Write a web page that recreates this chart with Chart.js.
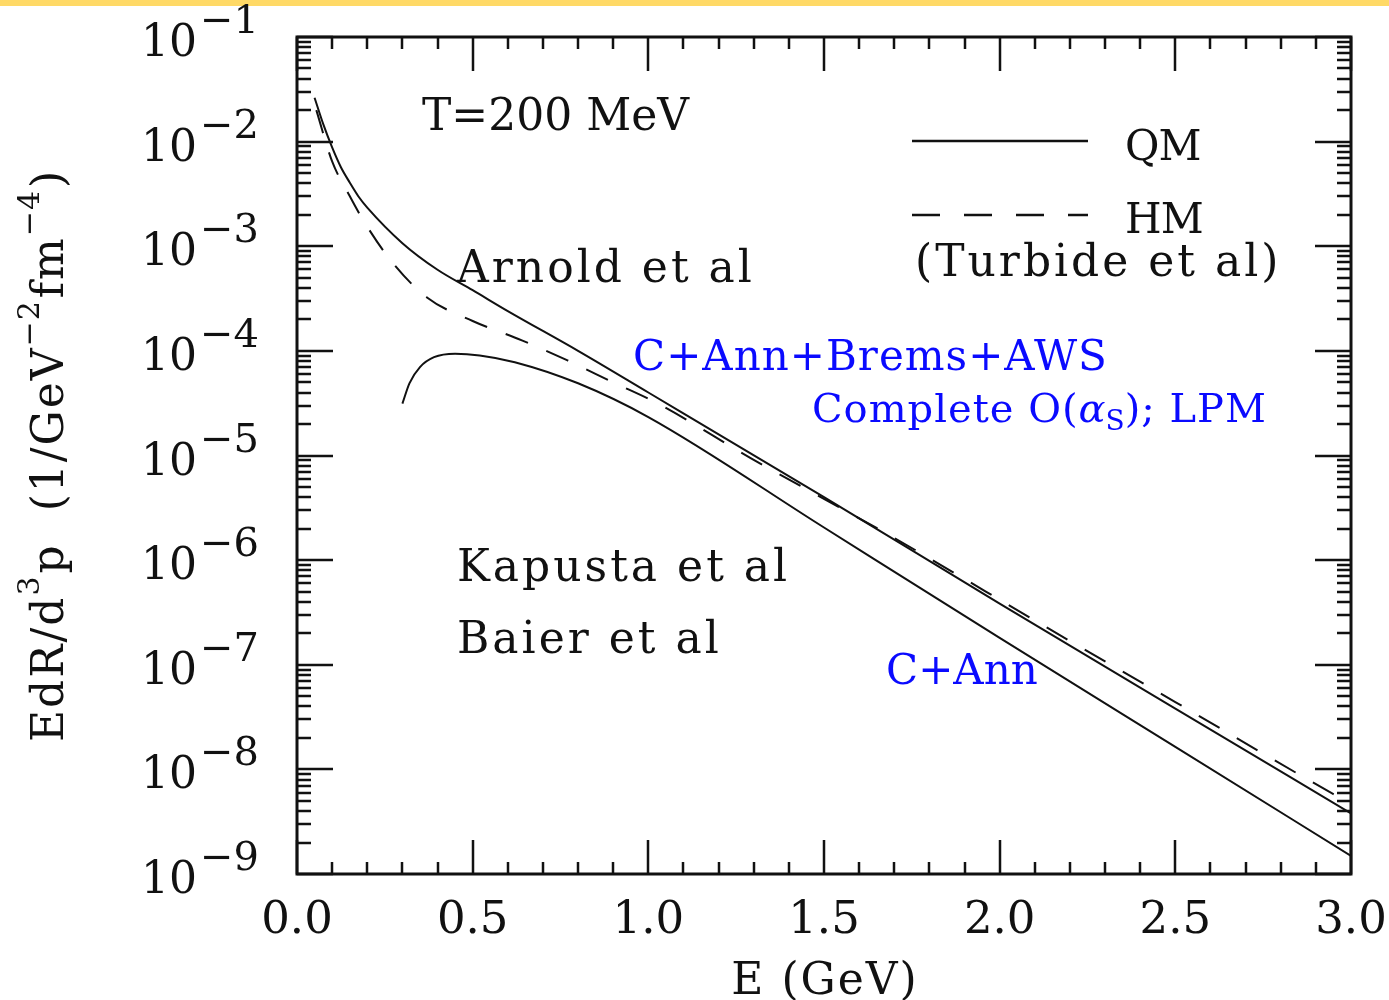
<!DOCTYPE html>
<html>
<head>
<meta charset="utf-8">
<script src="https://cdn.jsdelivr.net/npm/chart.js@4/dist/chart.umd.min.js"></script>
<style>
  html, body { margin: 0; padding: 0; background: #fff; }
  canvas { display: block; }
</style>
</head>
<body>
<canvas id="rateChart" width="1389" height="1000"></canvas>
<script>
// photon rate at T = 200 MeV, E in GeV, rate in 1/GeV^2 fm^4

// QM, complete O(alpha_s) with LPM (Arnold et al)
const qmArnoldE    = [0.05, 0.075, 0.1, 0.125, 0.15, 0.175, 0.2, 0.3, 0.4, 0.5, 0.6, 0.8, 1.0,
                      1.5, 2.0, 2.5, 3.0];
const qmArnoldRate = [2.63e-2, 1.46e-2, 8.8e-3, 5.69e-3, 4.07e-3, 2.99e-3, 2.34e-3, 1.07e-3, 5.96e-4,
                      3.8e-4, 2.4e-4, 1.0e-4, 4.0e-5, 4.0e-6, 3.84e-7, 3.8e-8, 3.8e-9];

// QM, Compton + annihilation (Kapusta et al, Baier et al)
const qmKapustaE    = [0.30, 0.32, 0.35, 0.39, 0.45, 0.52, 0.62, 0.8, 1.0, 1.5, 2.0, 2.5, 3.0];
const qmKapustaRate = [3.13e-5, 4.9e-5, 7.0e-5, 8.7e-5, 9.4e-5, 9.05e-5, 7.8e-5, 4.9e-5, 2.33e-5,
                       2.05e-6, 1.81e-7, 1.64e-8, 1.49e-9];

// HM (Turbide et al)
const hmTurbideE    = [0.055, 0.1, 0.15, 0.19, 0.27, 0.37, 0.5, 0.64, 0.77, 0.9, 1.03, 1.29, 1.54,
                       1.68, 2.14, 2.5, 2.95, 3.0];
const hmTurbideRate = [2.0e-2, 6.46e-3, 3.02e-3, 1.74e-3, 7.1e-4, 3.24e-4, 1.93e-4, 1.26e-4, 8.1e-5,
                       5.0e-5, 3.1e-5, 9.5e-6, 3.24e-6, 1.78e-6, 2.21e-7, 4.4e-8, 5.8e-9, 4.7e-9];

const xTickLabels = ['0.0', '0.5', '1.0', '1.5', '2.0', '2.5', '3.0'];
const yTickExponents = [-1, -2, -3, -4, -5, -6, -7, -8, -9];

const FONT = '"DejaVu Serif", serif';
const INK = '#111';
const BLUE = '#0a0aff';

function toPoints(xs, ys) {
  return xs.map((x, i) => ({ x: x, y: ys[i] }));
}

function drawText(ctx, str, x, y, size, color, extra) {
  extra = extra || {};
  ctx.save();
  ctx.font = (extra.style || '') + ' ' + size + 'px ' + FONT;
  ctx.fillStyle = color || INK;
  ctx.textAlign = extra.align || 'left';
  ctx.textBaseline = 'alphabetic';
  ctx.letterSpacing = (extra.spacing != null ? extra.spacing : 3) + 'px';
  ctx.fillText(str, x, y);
  const w = ctx.measureText(str).width;
  ctx.restore();
  return w;
}

// frame, inward ticks on all four sides, labels and annotations
const framePlugin = {
  id: 'frame',
  beforeDraw(chart) {
    const ctx = chart.ctx;
    ctx.save();
    ctx.fillStyle = '#ffd966';
    ctx.fillRect(0, 0, chart.width, 6);
    ctx.restore();
  },
  afterDraw(chart) {
    const ctx = chart.ctx;
    const a = chart.chartArea;
    const xs = chart.scales.x;
    const ys = chart.scales.y;

    ctx.save();
    ctx.strokeStyle = INK;
    ctx.lineCap = 'butt';

    // ticks
    ctx.lineWidth = 2.5;
    ctx.beginPath();
    for (let i = 0; i <= 30; i++) {
      const px = Math.round(xs.getPixelForValue(i / 10));
      const len = (i % 5 === 0) ? 34 : 12;
      ctx.moveTo(px, a.bottom); ctx.lineTo(px, a.bottom - len);
      ctx.moveTo(px, a.top);    ctx.lineTo(px, a.top + len);
    }
    for (let e = -9; e <= -1; e++) {
      for (let m = 1; m <= 9; m++) {
        const v = m * Math.pow(10, e);
        if (v > 0.1 + 1e-12) continue;
        const py = Math.round(ys.getPixelForValue(v));
        const len = (m === 1) ? 36 : 14;
        ctx.moveTo(a.left, py);  ctx.lineTo(a.left + len, py);
        ctx.moveTo(a.right, py); ctx.lineTo(a.right - len, py);
      }
    }
    ctx.stroke();

    // frame
    ctx.lineWidth = 3;
    ctx.strokeRect(a.left, a.top, a.right - a.left, a.bottom - a.top);
    ctx.restore();

    // x tick labels
    xTickLabels.forEach(lab => {
      const px = xs.getPixelForValue(parseFloat(lab));
      drawText(ctx, lab, px, 933, 45, INK, { align: 'center', spacing: 0 });
    });
    drawText(ctx, 'E (GeV)', 825, 994, 44, INK, { align: 'center', spacing: 2 });

    // y tick labels 10^n
    yTickExponents.forEach(n => {
      const py = ys.getPixelForValue(Math.pow(10, n));
      drawText(ctx, '10', 141, py + 19, 44, INK, { spacing: 0 });
      drawText(ctx, '\u2212' + Math.abs(n), 200, py - 4, 40, INK, { spacing: 0 });
    });

    // y title, rotated, with superscripts
    ctx.save();
    ctx.translate(63, 742);
    ctx.rotate(-Math.PI / 2);
    const parts = [
      ['EdR/d', 0], ['3', 1], ['p  (1/GeV', 0], ['\u22122', 1], ['fm', 0], ['\u22124', 1], [')', 0]
    ];
    let cx = 0;
    parts.forEach(p => {
      if (p[1]) {
        cx += drawText(ctx, p[0], cx, -24, 30, INK, { spacing: 1 }) + 2;
      } else {
        cx += drawText(ctx, p[0], cx, 0, 44, INK, { spacing: 2 });
      }
    });
    ctx.restore();

    // annotations
    drawText(ctx, 'T=200 MeV', 422, 130, 44, INK, { spacing: 0 });
    drawText(ctx, 'Arnold et al', 457, 282, 44, INK);
    drawText(ctx, 'Kapusta et al', 457, 581, 44, INK);
    drawText(ctx, 'Baier et al', 457, 653, 44, INK);
    drawText(ctx, 'C+Ann+Brems+AWS', 633, 370, 42, BLUE, { spacing: 1 });
    let lx = 812;
    lx += drawText(ctx, 'Complete O(', lx, 422, 40, BLUE, { spacing: 1 });
    lx += drawText(ctx, '\u03b1', lx, 422, 40, BLUE, { style: 'italic', spacing: 0 });
    lx += drawText(ctx, 'S', lx, 430, 28, BLUE, { spacing: 0 });
    drawText(ctx, '); LPM', lx, 422, 40, BLUE, { spacing: 1 });
    drawText(ctx, 'C+Ann', 886, 684, 42, BLUE, { spacing: 0 });

    // legend
    ctx.save();
    ctx.strokeStyle = INK;
    ctx.lineWidth = 2.5;
    ctx.beginPath();
    ctx.moveTo(912, 141); ctx.lineTo(1088, 141);
    ctx.stroke();
    ctx.setLineDash([28, 24]);
    ctx.beginPath();
    ctx.moveTo(912, 215); ctx.lineTo(1088, 215);
    ctx.stroke();
    ctx.restore();
    drawText(ctx, 'QM', 1125, 160, 42, INK, { spacing: -1 });
    drawText(ctx, 'HM', 1125, 233, 42, INK, { spacing: -1 });
    drawText(ctx, '(Turbide et al)', 915, 276, 44, INK);
  }
};

const lineStyle = {
  borderColor: INK,
  borderWidth: 2,
  pointRadius: 0,
  fill: false,
  cubicInterpolationMode: 'monotone'
};

new Chart(document.getElementById('rateChart'), {
  type: 'line',
  data: {
    datasets: [
      Object.assign({ label: 'QM Arnold et al', data: toPoints(qmArnoldE, qmArnoldRate) }, lineStyle),
      Object.assign({ label: 'QM Kapusta et al', data: toPoints(qmKapustaE, qmKapustaRate) }, lineStyle),
      Object.assign({ label: 'HM Turbide et al', data: toPoints(hmTurbideE, hmTurbideRate),
                      borderDash: [24, 20] }, lineStyle)
    ]
  },
  options: {
    responsive: false,
    devicePixelRatio: 1,
    animation: false,
    layout: { padding: { left: 297, right: 38, top: 37, bottom: 126 } },
    plugins: { legend: { display: false }, tooltip: { enabled: false } },
    scales: {
      x: { type: 'linear', min: 0, max: 3, display: false },
      y: { type: 'logarithmic', min: 1e-9, max: 1e-1, display: false }
    }
  },
  plugins: [framePlugin]
});
</script>
</body>
</html>
